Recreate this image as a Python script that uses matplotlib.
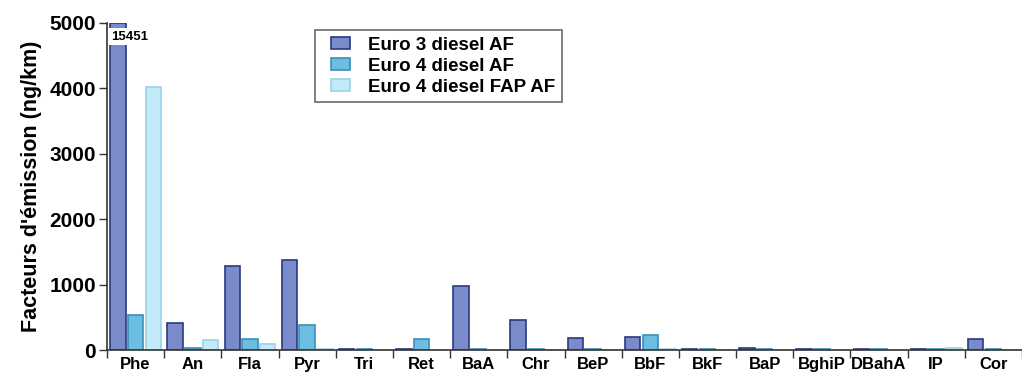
import matplotlib
matplotlib.use("Agg")
import matplotlib.pyplot as plt
from matplotlib.legend_handler import HandlerPatch, update_from_first_child
from matplotlib.container import BarContainer
from matplotlib.patches import Rectangle
import numpy as np

plt.rcParams['font.family'] = ['Liberation Sans', 'DejaVu Sans']
plt.rcParams['font.weight'] = 'bold'

# PAH compounds on the x axis
compounds = ["Phe", "An", "Fla", "Pyr", "Tri", "Ret", "BaA", "Chr", "BeP",
             "BbF", "BkF", "BaP", "BghiP", "DBahA", "IP", "Cor"]

# Emission factors (ng/km) for each vehicle category
euro3_diesel = [15451, 410, 1290, 1376, 15, 10, 973, 464, 178,
                204, 15, 35, 20, 10, 12, 163]
euro4_diesel = [530, 35, 173, 382, 10, 168, 10, 10, 10,
                225, 8, 10, 10, 10, 10, 10]
euro4_fap = [4020, 160, 87, 10, 5, 5, 5, 5, 5,
             10, 5, 5, 5, 5, 30, 5]

series_labels = ["Euro 3 diesel AF", "Euro 4 diesel AF", "Euro 4 diesel FAP AF"]
y_ticks = [0, 1000, 2000, 3000, 4000, 5000]
y_max = 5000

face_colors = ["#7A8BCB", "#6CBDE2", "#C2EAF9"]
edge_colors = ["#2B3A80", "#3A8FB8", "#9BD3EC"]

fig = plt.figure(figsize=(10.22, 3.74), dpi=100)
ax = fig.add_axes([107 / 1022, 24 / 374, 1 - 107 / 1022, 327 / 374])

x = np.arange(len(compounds))
width = 0.27
offsets = [-0.31, 0.0, 0.31]
all_series = [euro3_diesel, euro4_diesel, euro4_fap]

for vals, off, fc, ec, lab in zip(all_series, offsets, face_colors, edge_colors, series_labels):
    shown = np.minimum(vals, y_max)
    ax.bar(x + off, shown, width=width, color=fc, edgecolor=ec,
           linewidth=1.2, label=lab, zorder=2)

# The off-scale bar carries its true value as a label
i_max = int(np.argmax(euro3_diesel))
ax.text(x[i_max] + offsets[0] - width / 2 + 0.01, y_max - 210, str(euro3_diesel[i_max]),
        ha='left', va='center', fontsize=9.5, fontweight='bold',
        bbox=dict(boxstyle='square,pad=0.2', fc='white', ec='none'), zorder=3)

ax.set_xlim(-0.5, 15.35)
ax.set_ylim(0, y_max)
ax.set_yticks(y_ticks)
ax.set_yticklabels([str(t) for t in y_ticks], fontsize=15, fontweight='bold')

# Category labels centred, tick marks at category boundaries
ax.set_xticks(np.arange(-0.5, len(compounds), 1.0))
ax.set_xticklabels([])
ax.set_xticks(x, minor=True)
ax.set_xticklabels(compounds, minor=True, fontsize=12, fontweight='bold')
ax.tick_params(axis='x', which='minor', length=0, pad=5)
ax.tick_params(axis='x', which='major', length=6, width=1, color='#333333')
ax.tick_params(axis='y', length=6, width=1, color='#333333', pad=2)

for side in ['top', 'right']:
    ax.spines[side].set_visible(False)
for side in ['left', 'bottom']:
    ax.spines[side].set_color('#333333')
    ax.spines[side].set_linewidth(1.2)

ax.set_ylabel("Facteurs d'émission (ng/km)", fontsize=15.5, fontweight='bold', labelpad=5)


def inset_swatch(legend, orig_handle, xdescent, ydescent, width, height, fontsize):
    # small colour square drawn in the right part of the handle box
    w = 0.67 * width
    return Rectangle((width - w - xdescent, -ydescent), w, height)


leg = ax.legend(loc='upper left', bbox_to_anchor=(208 / 915, 320 / 327),
                borderaxespad=0.0, frameon=True, fancybox=False,
                edgecolor='#444444', handlelength=1.52, handleheight=0.65,
                borderpad=0.35, labelspacing=0.22, handletextpad=0.96,
                handler_map={BarContainer: HandlerPatch(patch_func=inset_swatch,
                                                        update_func=update_from_first_child)},
                prop={'weight': 'bold', 'size': 13.5})
leg.get_frame().set_linewidth(1.2)

fig.savefig("out.png", dpi=100)
